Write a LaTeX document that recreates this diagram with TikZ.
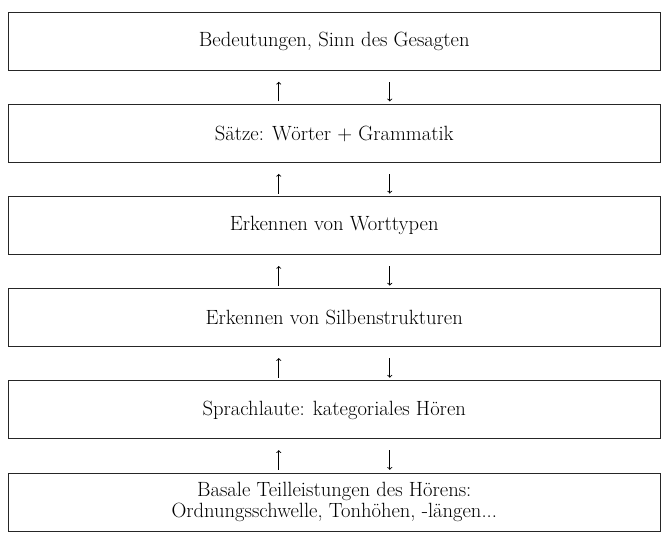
\documentclass[tikz,border=0pt]{standalone}
\usetikzlibrary{positioning}
\tikzset{
  ebene/.style={draw=black!85,line width=1pt,minimum width=651.5pt,minimum height=58pt,
    inner sep=0pt,align=center,font=\fontsize{20.6}{21}\selectfont},
  pfeil/.style={->,line width=0.9pt,black}
}
\begin{document}
\begin{tikzpicture}[x=1pt,y=1pt,node distance=33.1pt]
\useasboundingbox (0,0) rectangle (667,-547);
\node[ebene](e1) at (334.25,-41.5){Bedeutungen, Sinn des Gesagten};
\node[ebene,below=of e1](e2){Sätze: Wörter + Grammatik};
\node[ebene,below=of e2](e3){Erkennen von Worttypen};
\node[ebene,below=of e3](e4){Erkennen von Silbenstrukturen};
\node[ebene,below=of e4](e5){Sprachlaute: kategoriales Hören};
\node[ebene,below=of e5](e6){Basale Teilleistungen des Hörens:\\Ordnungsschwelle, Tonhöhen, -längen...};
% nach oben links, nach unten rechts
\foreach \u/\o in {e2/e1,e3/e2,e4/e3,e5/e4,e6/e5}{
  \draw[pfeil,shorten <=2.7pt,shorten >=10.8pt]([xshift=-55.5pt]\u.north)--([xshift=-55.5pt]\o.south);
  \draw[pfeil,shorten <=11pt,shorten >=2.7pt]([xshift=55.5pt]\o.south)--([xshift=55.5pt]\u.north);
}
\end{tikzpicture}
\end{document}
